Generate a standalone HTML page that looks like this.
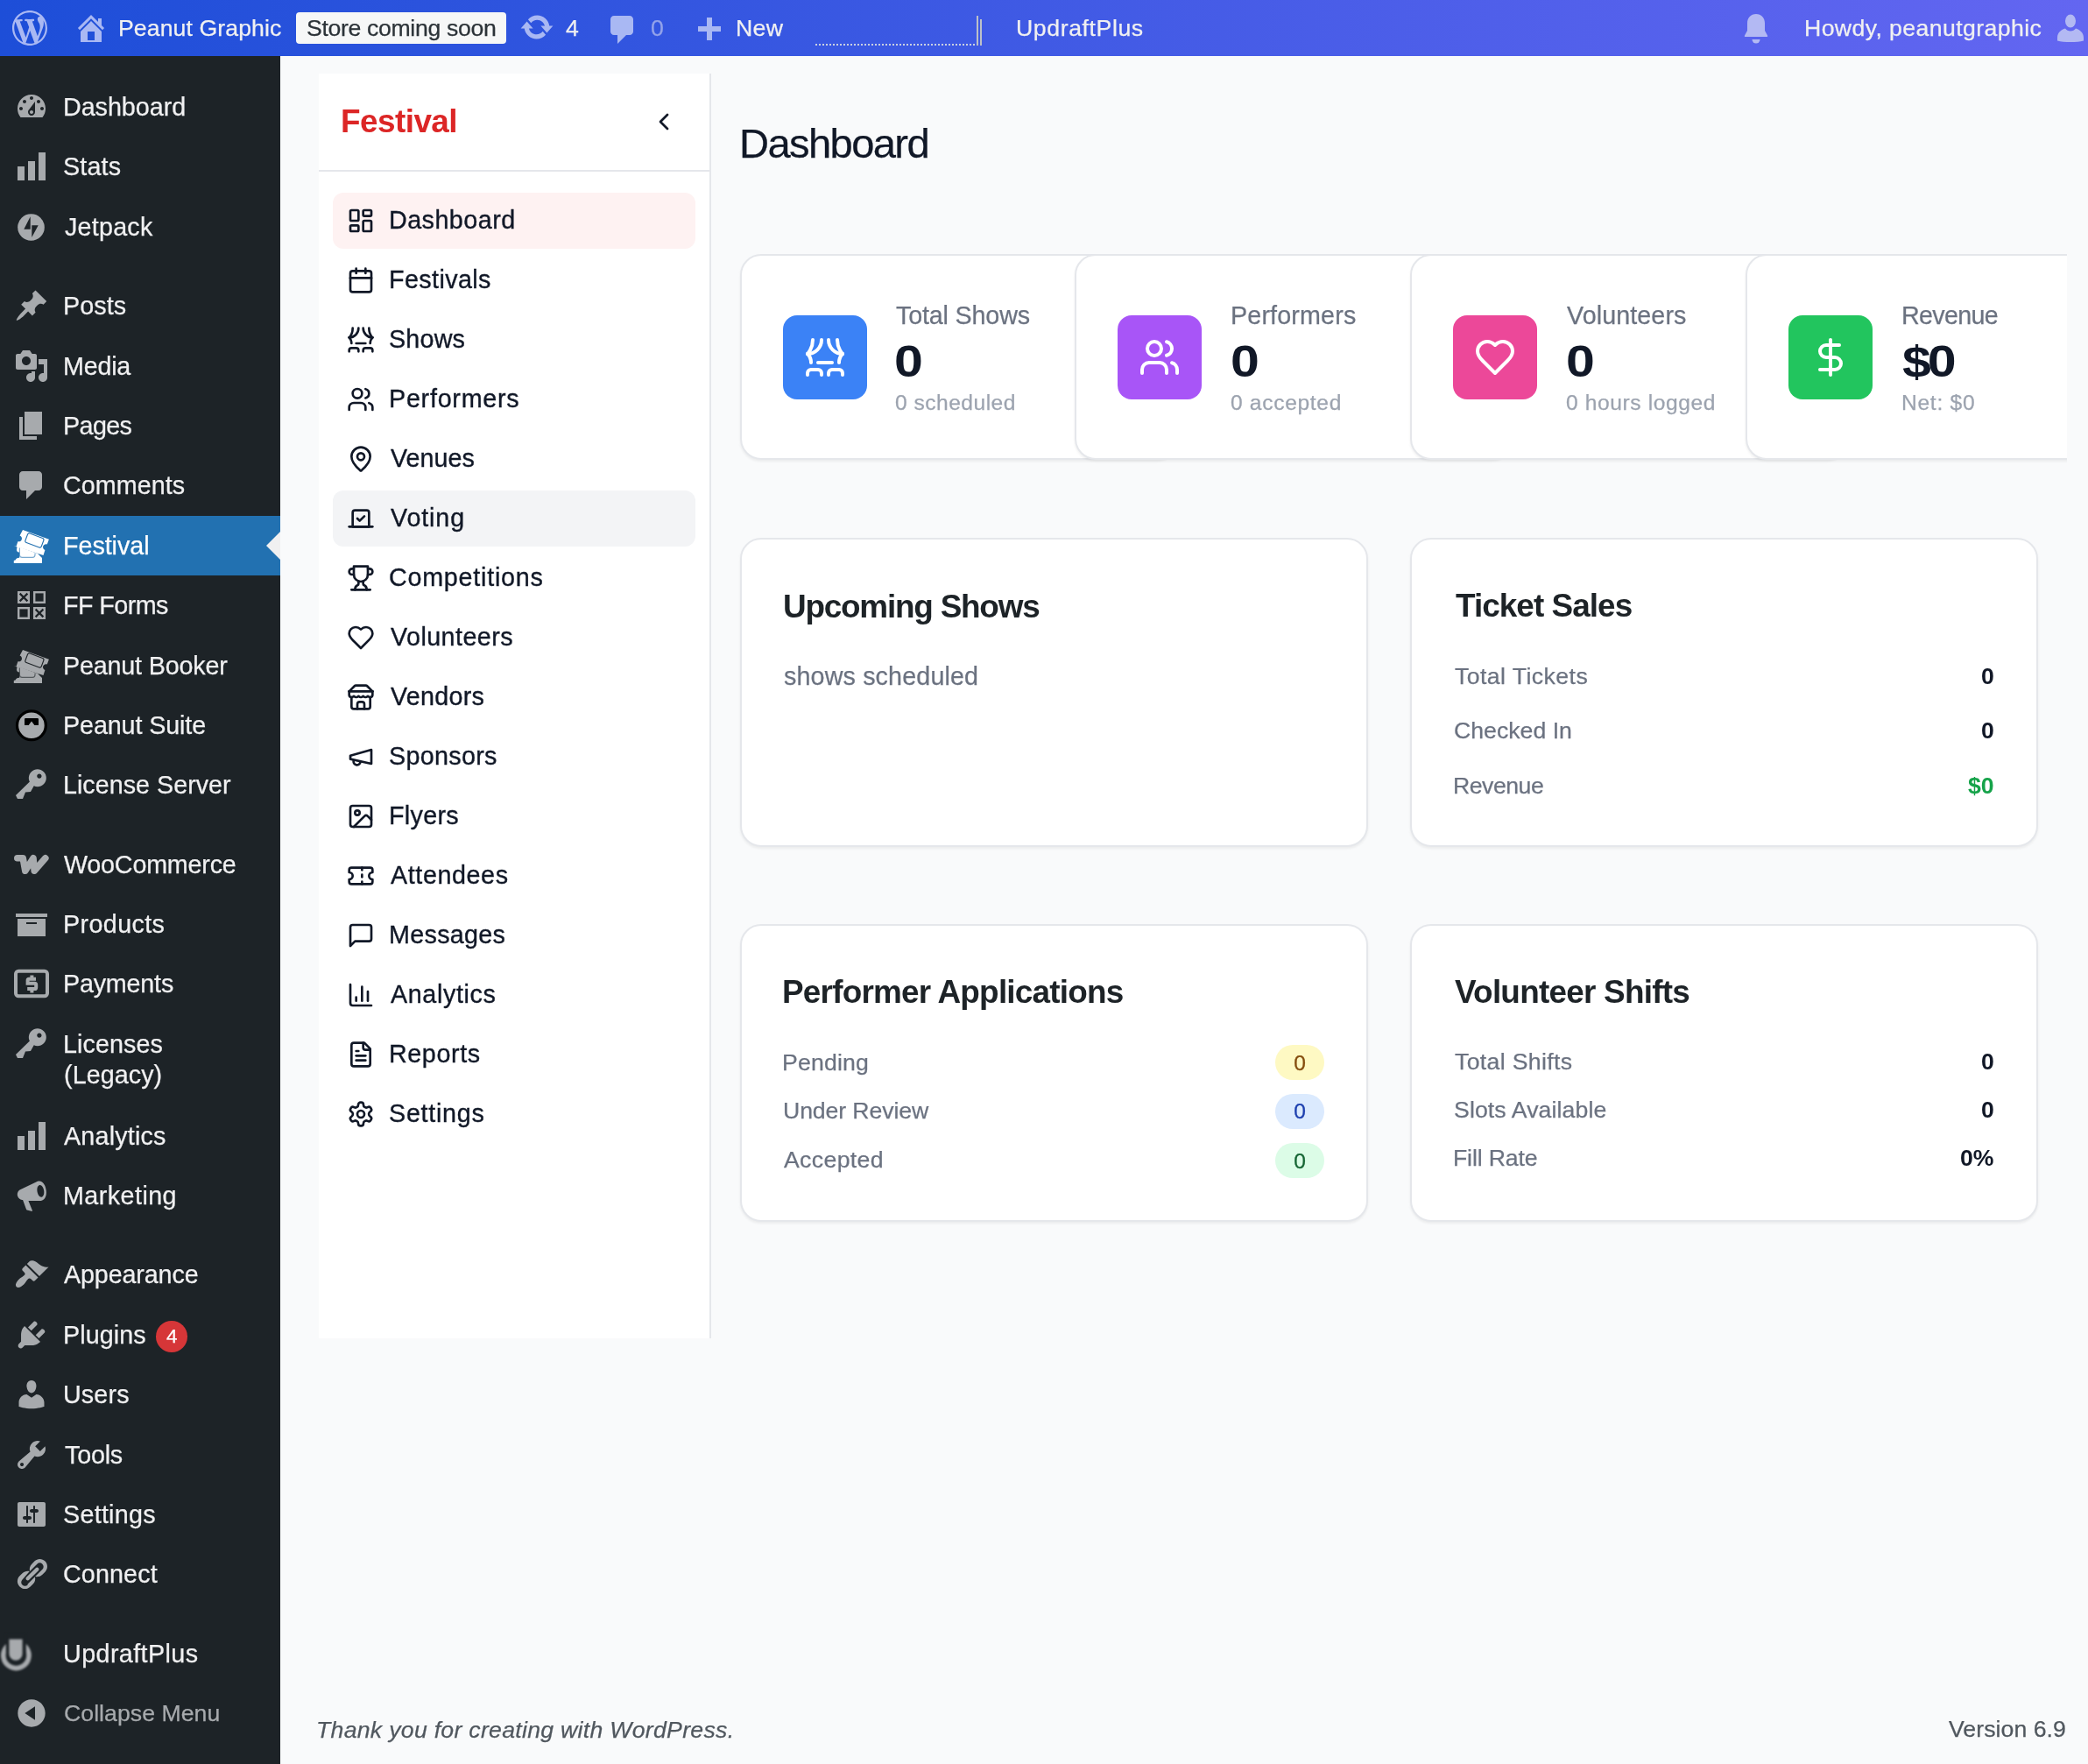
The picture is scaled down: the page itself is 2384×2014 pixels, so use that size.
<!DOCTYPE html>
<html><head><meta charset="utf-8"><title>Festival Dashboard</title>
<style>
html,body{margin:0;padding:0;}
body{width:2384px;height:2014px;position:relative;overflow:hidden;background:#f9fafb;font-family:"Liberation Sans", sans-serif;}
.t{position:absolute;white-space:nowrap;will-change:transform;}
svg{display:block;}
</style></head><body>
<div style="position:absolute;left:0px;top:0px;width:2384px;height:64px;background:linear-gradient(90deg,#1d4ed8 0%,#6366f1 100%);"></div>
<svg style="position:absolute;left:14px;top:12px;" width="40" height="40" viewBox="0 0 20 20"><path fill="#a9b8f3" d="M20 10c0-5.51-4.49-10-10-10C4.48 0 0 4.49 0 10c0 5.52 4.48 10 10 10 5.51 0 10-4.48 10-10zM7.78 15.37L4.37 6.22c.55-.02 1.17-.08 1.17-.08.5-.06.44-1.13-.06-1.11 0 0-1.45.11-2.37.11-.18 0-.37 0-.58-.01C4.12 2.69 6.87 1.11 10 1.11c2.33 0 4.45.87 6.05 2.34-.68-.11-1.65.39-1.65 1.58 0 .74.45 1.36.9 2.1.35.61.55 1.36.55 2.46 0 1.49-1.4 5-1.4 5l-3.03-8.37c.54-.02.82-.17.82-.17.5-.05.44-1.25-.06-1.22 0 0-1.44.12-2.38.12-.87 0-2.33-.12-2.33-.12-.5-.03-.56 1.2-.06 1.22l.92.08 1.26 3.41zM17.41 10c.24-.64.74-1.87.43-4.25.7 1.29 1.05 2.71 1.05 4.25 0 3.29-1.73 6.24-4.4 7.78.97-2.59 1.94-5.2 2.92-7.78zM6.1 18.09C3.12 16.65 1.11 13.53 1.11 10c0-1.3.23-2.48.72-3.59C3.25 10.3 4.67 14.2 6.1 18.09zm4.03-6.63l2.58 6.98c-.86.29-1.76.45-2.71.45-.79 0-1.57-.11-2.29-.33.81-2.38 1.62-4.74 2.42-7.1z"/></svg>
<svg style="position:absolute;left:84px;top:12px;" width="40" height="40" viewBox="0 0 20 20"><path fill="#a9b8f3" d="M16 8.5l1.53 1.53-1.06 1.06L10 4.62l-6.47 6.47-1.06-1.06L10 2.5l4 4v-2h2v4zm-6-2.46l6 5.99V18H4v-5.97zM12 17v-5H8v5h4z"/></svg>
<div class="t" style="left:135.00px;top:15.26px;font-size:26.65px;line-height:35px;color:#f0f0f1;font-weight:400;letter-spacing:0.096px;font-style:normal;-webkit-text-stroke:0.25px #f0f0f1;">Peanut Graphic</div>
<div style="position:absolute;left:338px;top:14px;width:240px;height:36px;background:#f6f7f7;border-radius:4px;"></div>
<div class="t" style="left:350.00px;top:15.26px;font-size:26.65px;line-height:35px;color:#2c3338;font-weight:400;letter-spacing:-0.338px;font-style:normal;-webkit-text-stroke:0.25px #2c3338;">Store coming soon</div>
<svg style="position:absolute;left:592.7px;top:11.4px;" width="40" height="40" viewBox="0 0 20 20"><path fill="#a9b8f3" d="M10.2 3.28c3.53 0 6.43 2.61 6.92 6h2.08l-3.5 4-3.5-4h2.32c-.45-1.97-2.21-3.44-4.32-3.44-1.45 0-2.73.71-3.54 1.78L4.95 5.66C6.23 4.2 8.11 3.28 10.2 3.28zm-.4 13.44c-3.52 0-6.43-2.61-6.92-6H.8l3.5-4c1.17 1.33 2.33 2.67 3.5 4H5.48c.45 1.97 2.21 3.44 4.32 3.44 1.45 0 2.73-.71 3.54-1.78l1.71 1.95c-1.28 1.46-3.15 2.39-5.25 2.39z"/></svg>
<div class="t" style="left:646.00px;top:15.26px;font-size:26.65px;line-height:35px;color:#f0f0f1;font-weight:400;letter-spacing:0px;font-style:normal;-webkit-text-stroke:0.25px #f0f0f1;">4</div>
<svg style="position:absolute;left:691px;top:14px;" width="40" height="40" viewBox="0 0 20 20"><path fill="#a9b8f3" d="M5 2h9c1.1 0 2 .9 2 2v7c0 1.1-.9 2-2 2h-2l-5 5v-5H5c-1.1 0-2-.9-2-2V4c0-1.1.9-2 2-2z"/></svg>
<div class="t" style="left:743.00px;top:15.26px;font-size:26.65px;line-height:35px;color:#93a3ea;font-weight:400;letter-spacing:0px;font-style:normal;-webkit-text-stroke:0.25px #93a3ea;">0</div>
<svg style="position:absolute;left:797px;top:20px;" width="26" height="26" viewBox="0 0 26 26"><path fill="#a9b8f3" d="M10 0h6v10h10v6H16v10h-6V16H0v-6h10z"/></svg>
<div class="t" style="left:840.00px;top:15.26px;font-size:26.65px;line-height:35px;color:#f0f0f1;font-weight:400;letter-spacing:0.3px;font-style:normal;-webkit-text-stroke:0.25px #f0f0f1;">New</div>
<div style="position:absolute;left:931px;top:50px;width:184px;height:2px;background-image:linear-gradient(90deg,#c9cfe0 50%,transparent 50%);background-size:4px 2px;"></div>
<div style="position:absolute;left:1115px;top:18px;width:2px;height:34px;background:#bcc0c8;"></div>
<div style="position:absolute;left:1119px;top:22px;width:2px;height:30px;background:#bcc0c8;"></div>
<div class="t" style="left:1160.00px;top:15.26px;font-size:26.65px;line-height:35px;color:#f0f0f1;font-weight:400;letter-spacing:0.6px;font-style:normal;-webkit-text-stroke:0.25px #f0f0f1;">UpdraftPlus</div>
<svg style="position:absolute;left:1989px;top:15px;" width="32" height="37" viewBox="0 0 32 37"><path fill="#b3b9f3" d="M16 1c6 0 10 4.5 10 10.5V20l3 5.5c.5 1 0 1.5-1 1.5H4c-1 0-1.5-.5-1-1.5L6 20v-8.5C6 5.5 10 1 16 1z"/><path fill="#b3b9f3" d="M11.5 30h9a4.5 4.5 0 0 1-9 0z"/></svg>
<div class="t" style="left:2060.00px;top:15.26px;font-size:26.65px;line-height:35px;color:#f0f0f1;font-weight:400;letter-spacing:0.406px;font-style:normal;-webkit-text-stroke:0.25px #f0f0f1;">Howdy, peanutgraphic</div>
<svg style="position:absolute;left:2349px;top:16px;" width="30" height="32" viewBox="0 0 30 32"><ellipse fill="#b3b9f3" cx="15" cy="8" rx="6" ry="7.5"/><path fill="#b3b9f3" d="M0 27c0-6 5-9.5 9-10.5 1.5 2 3.5 3 6 3s4.5-1 6-3c4 1 9 4.5 9 10.5v3.5c-4 1-9 1.5-15 1.5s-11-.5-15-1.5z"/></svg>
<div style="position:absolute;left:0px;top:64px;width:320px;height:1950px;background:#1d2327;"></div>
<div style="position:absolute;left:0px;top:589px;width:320px;height:68px;background:#2271b1;"></div>
<div style="position:absolute;left:304px;top:607px;width:0;height:0;border-top:16px solid transparent;border-bottom:16px solid transparent;border-right:16px solid #f0f0f1;"></div>
<div class="t" style="left:72.00px;top:104.45px;font-size:28.7px;line-height:37px;color:#f0f0f1;font-weight:400;letter-spacing:-0.026px;font-style:normal;-webkit-text-stroke:0.25px #f0f0f1;">Dashboard</div>
<svg style="position:absolute;left:16px;top:102px;overflow:visible;" width="40" height="40" viewBox="0 0 20 20"><path fill="#a7aaad" d="M3.76 16h12.48c1.1-1.37 1.76-3.11 1.76-5 0-4.42-3.58-8-8-8s-8 3.58-8 8c0 1.89.66 3.63 1.76 5zM10 4c.55 0 1 .45 1 1s-.45 1-1 1-1-.45-1-1 .45-1 1-1zM6 6c.55 0 1 .45 1 1s-.45 1-1 1-1-.45-1-1 .45-1 1-1zm8 0c.55 0 1 .45 1 1s-.45 1-1 1-1-.45-1-1 .45-1 1-1zm-5.37 5.55L12 7v6c0 1.1-.9 2-2 2s-2-.9-2-2c0-.57.24-1.08.63-1.45zM4 10c.55 0 1 .45 1 1s-.45 1-1 1-1-.45-1-1 .45-1 1-1zm12 0c.55 0 1 .45 1 1s-.45 1-1 1-1-.45-1-1 .45-1 1-1zm-5 3c0-.55-.45-1-1-1s-1 .45-1 1 .45 1 1 1 1-.45 1-1z"/></svg>
<div class="t" style="left:72.25px;top:172.45px;font-size:28.7px;line-height:37px;color:#f0f0f1;font-weight:400;letter-spacing:0.152px;font-style:normal;-webkit-text-stroke:0.25px #f0f0f1;">Stats</div>
<svg style="position:absolute;left:16px;top:170px;overflow:visible;" width="40" height="40" viewBox="0 0 20 20"><path fill="#a7aaad" d="M18 18V2h-4v16h4zm-6 0V7H8v11h4zm-6 0v-8H2v8h4z"/></svg>
<div class="t" style="left:73.75px;top:241.45px;font-size:28.7px;line-height:37px;color:#f0f0f1;font-weight:400;letter-spacing:0.234px;font-style:normal;-webkit-text-stroke:0.25px #f0f0f1;">Jetpack</div>
<svg style="position:absolute;left:16px;top:239px;overflow:visible;" width="40" height="40" viewBox="0 0 20 20"><circle cx="9.75" cy="10.25" r="7.65" fill="#a7aaad"/><path fill="#1d2327" d="M9.35 4.1V11.35H5.65zM10.15 9.15H13.85L10.15 16z"/></svg>
<div class="t" style="left:72.00px;top:331.45px;font-size:28.7px;line-height:37px;color:#f0f0f1;font-weight:400;letter-spacing:0.098px;font-style:normal;-webkit-text-stroke:0.25px #f0f0f1;">Posts</div>
<svg style="position:absolute;left:16px;top:329px;overflow:visible;" width="40" height="40" viewBox="0 0 20 20"><path fill="#a7aaad" d="M10.44 3.02l1.82-1.82 6.36 6.35-1.83 1.82c-1.05-.68-2.48-.57-3.41.36l-.75.75c-.92.93-1.04 2.35-.35 3.41l-1.83 1.82-2.41-2.41-2.8 2.79c-.42.42-3.38 2.71-3.8 2.29s1.86-3.39 2.28-3.81l2.79-2.79L4.1 9.36l1.83-1.82c1.05.69 2.48.57 3.4-.36l.75-.75c.93-.92 1.05-2.35.36-3.41z"/></svg>
<div class="t" style="left:72.00px;top:400.45px;font-size:28.7px;line-height:37px;color:#f0f0f1;font-weight:400;letter-spacing:-0.202px;font-style:normal;-webkit-text-stroke:0.25px #f0f0f1;">Media</div>
<svg style="position:absolute;left:16px;top:398px;overflow:visible;" width="40" height="40" viewBox="0 0 20 20"><path fill="#a7aaad" d="M13 11V4c0-.55-.45-1-1-1h-1.67L9 1H5L3.67 3H2c-.55 0-1 .45-1 1v7c0 .55.45 1 1 1h10c.55 0 1-.45 1-1zM7 4.5c1.38 0 2.5 1.12 2.5 2.5S8.38 9.5 7 9.5 4.5 8.38 4.5 7 5.62 4.5 7 4.5zM14 6h5v10.5c0 1.38-1.12 2.5-2.5 2.5S14 17.88 14 16.5s1.12-2.5 2.5-2.5c.17 0 .34.02.5.05V9h-3V6zm-4 8.05V13h2v3.5c0 1.38-1.12 2.5-2.5 2.5S7 17.88 7 16.5 8.12 14 9.5 14c.17 0 .34.02.5.05z"/></svg>
<div class="t" style="left:72.00px;top:468.45px;font-size:28.7px;line-height:37px;color:#f0f0f1;font-weight:400;letter-spacing:-0.598px;font-style:normal;-webkit-text-stroke:0.25px #f0f0f1;">Pages</div>
<svg style="position:absolute;left:16px;top:466px;overflow:visible;" width="40" height="40" viewBox="0 0 20 20"><path fill="#a7aaad" d="M6 15V2h10v13H6zm-1 1h8v2H3V5h2v11z"/></svg>
<div class="t" style="left:72.25px;top:536.45px;font-size:28.7px;line-height:37px;color:#f0f0f1;font-weight:400;letter-spacing:0.043px;font-style:normal;-webkit-text-stroke:0.25px #f0f0f1;">Comments</div>
<svg style="position:absolute;left:16px;top:534px;overflow:visible;" width="40" height="40" viewBox="0 0 20 20"><path fill="#a7aaad" d="M5 2h9c1.1 0 2 .9 2 2v7c0 1.1-.9 2-2 2h-2l-5 5v-5H5c-1.1 0-2-.9-2-2V4c0-1.1.9-2 2-2z"/></svg>
<div class="t" style="left:72.00px;top:605.45px;font-size:28.7px;line-height:37px;color:#ffffff;font-weight:400;letter-spacing:-0.042px;font-style:normal;-webkit-text-stroke:0.25px #ffffff;">Festival</div>
<svg style="position:absolute;left:16px;top:603px;overflow:visible;" width="40" height="40" viewBox="0 0 20 20"><g fill="#ffffff"><path d="M5 1 19.95 6.35 18.9 9.2c-1-.35-2 .2-2.3 1.1s.2 1.9 1.1 2.2L16.75 15.5 1.25 10.5 2.2 7.6c1 .3 1.9-.2 2.2-1.1s-.2-1.9-1.1-2.2z"/><path d="M-.1 10.1 1.4 10.6c.3 0 .5.3.3.6-.3 1-.4 2.5 1.4 2.6V16.9c-1.3 0-2.1.6-2.3 1.4L-.1 18.5V20H16V17L13.5 14.5 2.6 10.6z"/></g><g fill="none" stroke="#2271b1" stroke-width="0.55"><rect x="6.8" y="4.2" width="9.8" height="5.6" rx="1" transform="rotate(20.5 11.7 7)"/><path d="M3.2 11.2V15.3a1.4 1.4 0 0 0 1.4 1.4H10.6a1.4 1.4 0 0 0 1.4-1.4V14.2" stroke-opacity="0.6"/></g></svg>
<div class="t" style="left:72.00px;top:673.45px;font-size:28.7px;line-height:37px;color:#f0f0f1;font-weight:400;letter-spacing:-0.557px;font-style:normal;-webkit-text-stroke:0.25px #f0f0f1;">FF Forms</div>
<svg style="position:absolute;left:16px;top:671px;overflow:visible;" width="40" height="40" viewBox="0 0 20 20"><g fill="none" stroke="#a7aaad" stroke-width="1.2"><rect x="2.6" y="2.6" width="5.8" height="5.8"/><rect x="11.6" y="2.6" width="5.8" height="5.8"/><rect x="2.6" y="11.6" width="5.8" height="5.8"/><rect x="11.6" y="11.6" width="5.8" height="5.8"/></g><g fill="#a7aaad"><rect x="2" y="2" width="7" height="7"/><rect x="11" y="11" width="7" height="7"/></g><g stroke="#1d2327" stroke-width="1.1"><path d="M3.3 3.3 7.7 7.7M7.7 3.3 3.3 7.7M12.3 12.3 16.7 16.7M16.7 12.3 12.3 16.7"/></g></svg>
<div class="t" style="left:72.00px;top:742.45px;font-size:28.7px;line-height:37px;color:#f0f0f1;font-weight:400;letter-spacing:-0.167px;font-style:normal;-webkit-text-stroke:0.25px #f0f0f1;">Peanut Booker</div>
<svg style="position:absolute;left:16px;top:740px;overflow:visible;" width="40" height="40" viewBox="0 0 20 20"><g fill="#a7aaad"><path d="M5 1 19.95 6.35 18.9 9.2c-1-.35-2 .2-2.3 1.1s.2 1.9 1.1 2.2L16.75 15.5 1.25 10.5 2.2 7.6c1 .3 1.9-.2 2.2-1.1s-.2-1.9-1.1-2.2z"/><path d="M-.1 10.1 1.4 10.6c.3 0 .5.3.3.6-.3 1-.4 2.5 1.4 2.6V16.9c-1.3 0-2.1.6-2.3 1.4L-.1 18.5V20H16V17L13.5 14.5 2.6 10.6z"/></g><g fill="none" stroke="#1d2327" stroke-width="0.55"><rect x="6.8" y="4.2" width="9.8" height="5.6" rx="1" transform="rotate(20.5 11.7 7)"/><path d="M3.2 11.2V15.3a1.4 1.4 0 0 0 1.4 1.4H10.6a1.4 1.4 0 0 0 1.4-1.4V14.2" stroke-opacity="0.6"/></g></svg>
<div class="t" style="left:72.00px;top:810.45px;font-size:28.7px;line-height:37px;color:#f0f0f1;font-weight:400;letter-spacing:-0.1px;font-style:normal;-webkit-text-stroke:0.25px #f0f0f1;">Peanut Suite</div>
<svg style="position:absolute;left:16px;top:808px;overflow:visible;" width="40" height="40" viewBox="0 0 20 20"><circle cx="9.95" cy="10.1" r="8.2" fill="#a7aaad" stroke="#000" stroke-width="1.6"/><path fill="#000" d="M6 6.6c0-.4.3-.6.7-.6h6.6c.4 0 .7.2.7.6V10h-2.3L10 7.8 8.3 10H6z"/></svg>
<div class="t" style="left:72.00px;top:878.45px;font-size:28.7px;line-height:37px;color:#f0f0f1;font-weight:400;letter-spacing:0.023px;font-style:normal;-webkit-text-stroke:0.25px #f0f0f1;">License Server</div>
<svg style="position:absolute;left:16px;top:876px;overflow:visible;" width="40" height="40" viewBox="0 0 20 20"><path fill="#a7aaad" d="M16.95 2.58c1.96 1.95 1.96 5.12 0 7.07-1.51 1.51-3.75 1.84-5.59 1.01l-1.87 3.31-2.99.31L5 18H2l-1-2 7.95-7.69c-.92-1.87-.62-4.18.93-5.73 1.95-1.96 5.12-1.96 7.07 0zm-2.51 3.79c.74 0 1.33-.6 1.33-1.34 0-.73-.59-1.33-1.33-1.33-.73 0-1.33.6-1.33 1.33 0 .74.6 1.34 1.33 1.34z"/></svg>
<div class="t" style="left:73.25px;top:969.45px;font-size:28.7px;line-height:37px;color:#f0f0f1;font-weight:400;letter-spacing:-0.2px;font-style:normal;-webkit-text-stroke:0.25px #f0f0f1;">WooCommerce</div>
<svg style="position:absolute;left:16px;top:967px;overflow:visible;" width="40" height="40" viewBox="0 0 20 20"><path fill="none" stroke="#a7aaad" stroke-width="3.8" stroke-linecap="round" stroke-linejoin="round" d="M1.9 6.4H5.1L6.4 13.6 11 6.4 11.6 13.6 17.9 6.4"/></svg>
<div class="t" style="left:72.00px;top:1037.45px;font-size:28.7px;line-height:37px;color:#f0f0f1;font-weight:400;letter-spacing:0.386px;font-style:normal;-webkit-text-stroke:0.25px #f0f0f1;">Products</div>
<svg style="position:absolute;left:16px;top:1035px;overflow:visible;" width="40" height="40" viewBox="0 0 20 20"><path fill="#a7aaad" d="M19 4v2H1V4h18zM2 7h16v10H2V7zm11 3V9H7v1h6z"/></svg>
<div class="t" style="left:72.00px;top:1105.45px;font-size:28.7px;line-height:37px;color:#f0f0f1;font-weight:400;letter-spacing:-0.186px;font-style:normal;-webkit-text-stroke:0.25px #f0f0f1;">Payments</div>
<svg style="position:absolute;left:16px;top:1103px;overflow:visible;" width="40" height="40" viewBox="0 0 20 20"><rect x="1" y="2.9" width="18" height="14.2" rx="1.6" fill="none" stroke="#a7aaad" stroke-width="2"/><path fill="none" stroke="#a7aaad" stroke-width="2" d="M12.5 7.4H8.6a.8.8 0 0 0-.8.8V9.9H11.8a.8.8 0 0 1 .8.8V12.2a.8.8 0 0 1-.8.8H7.6M10.2 5.2V7.4M10.2 13V15.2"/></svg>
<div class="t" style="left:72.00px;top:1174.45px;font-size:28.7px;line-height:37px;color:#f0f0f1;font-weight:400;letter-spacing:0.1px;font-style:normal;-webkit-text-stroke:0.25px #f0f0f1;">Licenses</div>
<svg style="position:absolute;left:16px;top:1172px;overflow:visible;" width="40" height="40" viewBox="0 0 20 20"><path fill="#a7aaad" d="M16.95 2.58c1.96 1.95 1.96 5.12 0 7.07-1.51 1.51-3.75 1.84-5.59 1.01l-1.87 3.31-2.99.31L5 18H2l-1-2 7.95-7.69c-.92-1.87-.62-4.18.93-5.73 1.95-1.96 5.12-1.96 7.07 0zm-2.51 3.79c.74 0 1.33-.6 1.33-1.34 0-.73-.59-1.33-1.33-1.33-.73 0-1.33.6-1.33 1.33 0 .74.6 1.34 1.33 1.34z"/></svg>
<div class="t" style="left:73.25px;top:1279.45px;font-size:28.7px;line-height:37px;color:#f0f0f1;font-weight:400;letter-spacing:0.199px;font-style:normal;-webkit-text-stroke:0.25px #f0f0f1;">Analytics</div>
<svg style="position:absolute;left:16px;top:1277px;overflow:visible;" width="40" height="40" viewBox="0 0 20 20"><path fill="#a7aaad" d="M18 18V2h-4v16h4zm-6 0V7H8v11h4zm-6 0v-8H2v8h4z"/></svg>
<div class="t" style="left:72.00px;top:1347.45px;font-size:28.7px;line-height:37px;color:#f0f0f1;font-weight:400;letter-spacing:0.451px;font-style:normal;-webkit-text-stroke:0.25px #f0f0f1;">Marketing</div>
<svg style="position:absolute;left:16px;top:1345px;overflow:visible;" width="40" height="40" viewBox="0 0 20 20"><path fill="#a7aaad" d="M18.15 5.94c.46 1.62.38 3.22-.02 4.48-.42 1.28-1.26 2.18-2.3 2.48-.16.06-.26.06-.4.06-.06.02-.12.02-.18.02-.06.02-.14.02-.22.02h-6.8l2.22 5.5c.02.14-.06.26-.14.34-.08.06-.19.1-.32.1-.05 0-.08 0-.12-.02l-2.5-.64c-.14-.04-.26-.14-.32-.26L5.03 12.5c-.14-.02-.27-.04-.4-.04-1.21-.14-2.22-1.02-2.58-2.26-.42-1.41.23-2.95 1.49-3.6l10.17-4.84h.22c.28-.04.5-.04.74 0 1.54.14 2.94 1.74 3.48 4.18zm-2.37 4.92c.68-.2 1.06-.86 1.24-1.58.2-.82.2-1.74-.08-2.84-.28-1.04-.78-1.86-1.38-2.24-.34-.22-.66-.3-.98-.22-.68.2-1.08.86-1.26 1.58-.2.84-.16 1.76.1 2.86.28 1.06.78 1.84 1.38 2.22.32.22.66.3.98.22z"/></svg>
<div class="t" style="left:73.25px;top:1437.45px;font-size:28.7px;line-height:37px;color:#f0f0f1;font-weight:400;letter-spacing:-0.122px;font-style:normal;-webkit-text-stroke:0.25px #f0f0f1;">Appearance</div>
<svg style="position:absolute;left:16px;top:1435px;overflow:visible;" width="40" height="40" viewBox="0 0 20 20"><path fill="#a7aaad" d="M14.48 11.06L7.41 3.99l1.5-1.5c.5-.56 2.3-.47 3.51.32 1.21.8 1.43 1.28 2.91 2.1 1.18.64 2.45 1.26 4.45.85zm-.71.71L6.7 4.7 4.93 6.47c-.39.39-.39 1.02 0 1.41l1.06 1.06c.39.39.39 1.03 0 1.42-.6.6-1.43 1.11-2.21 1.69-.35.26-.7.53-1.01.84C1.43 14.23.4 16.08 1.4 17.07c.99 1 2.84-.03 4.18-1.36.31-.31.58-.66.85-1.02.57-.78 1.08-1.61 1.69-2.21.39-.39 1.02-.39 1.41 0l1.06 1.06c.39.39 1.02.39 1.41 0z"/></svg>
<div class="t" style="left:72.00px;top:1506.45px;font-size:28.7px;line-height:37px;color:#f0f0f1;font-weight:400;letter-spacing:0.1px;font-style:normal;-webkit-text-stroke:0.25px #f0f0f1;">Plugins</div>
<svg style="position:absolute;left:16px;top:1504px;overflow:visible;" width="40" height="40" viewBox="0 0 20 20"><path fill="#a7aaad" d="M13.11 4.36L9.87 7.6 8 5.73l3.24-3.24c.35-.34 1.05-.2 1.56.32.52.51.66 1.21.31 1.55zm-8 1.77l.91-1.12 9.01 9.01-1.19.84c-.71.71-2.63 1.16-3.82 1.16H6.14L4.9 17.26c-.59.59-1.54.59-2.12 0-.59-.58-.59-1.53 0-2.12l1.24-1.24v-3.88c0-1.13.4-3.19 1.09-3.89zm7.26 3.97l3.24-3.24c.34-.35 1.04-.21 1.55.31.52.51.66 1.21.31 1.55l-3.24 3.25z"/></svg>
<div class="t" style="left:71.50px;top:1574.45px;font-size:28.7px;line-height:37px;color:#f0f0f1;font-weight:400;letter-spacing:0.152px;font-style:normal;-webkit-text-stroke:0.25px #f0f0f1;">Users</div>
<svg style="position:absolute;left:16px;top:1572px;overflow:visible;" width="40" height="40" viewBox="0 0 20 20"><path fill="#a7aaad" d="M10 9.25c-2.27 0-2.73-3.44-2.73-3.44C7 4.02 7.82 2 9.97 2c2.16 0 2.98 2.02 2.71 3.81 0 0-.41 3.44-2.68 3.44zm0 2.57L12.72 10c2.39 0 4.52 2.33 4.52 4.53v2.49s-3.65 1.13-7.24 1.13c-3.65 0-7.24-1.13-7.24-1.13v-2.49c0-2.25 1.94-4.48 4.47-4.48z"/></svg>
<div class="t" style="left:73.75px;top:1643.45px;font-size:28.7px;line-height:37px;color:#f0f0f1;font-weight:400;letter-spacing:-0.202px;font-style:normal;-webkit-text-stroke:0.25px #f0f0f1;">Tools</div>
<svg style="position:absolute;left:16px;top:1641px;overflow:visible;" width="40" height="40" viewBox="0 0 20 20"><path fill="#a7aaad" d="M16.68 9.77c-1.34 1.34-3.3 1.67-4.95.99l-5.41 6.52c-.99.99-2.59.99-3.58 0s-.99-2.59 0-3.57l6.52-5.42c-.68-1.65-.35-3.61.99-4.95 1.28-1.28 3.12-1.62 4.72-1.06l-2.89 2.89 2.82 2.82 2.86-2.87c.53 1.58.18 3.39-1.08 4.65zM3.81 16.21c.4.39 1.04.39 1.43 0 .4-.4.4-1.04 0-1.43-.39-.4-1.03-.4-1.43 0-.39.39-.39 1.03 0 1.43z"/></svg>
<div class="t" style="left:72.25px;top:1711.45px;font-size:28.7px;line-height:37px;color:#f0f0f1;font-weight:400;letter-spacing:0.272px;font-style:normal;-webkit-text-stroke:0.25px #f0f0f1;">Settings</div>
<svg style="position:absolute;left:16px;top:1709px;overflow:visible;" width="40" height="40" viewBox="0 0 20 20"><path fill="#a7aaad" d="M18 16V4c0-.55-.45-1-1-1H3c-.55 0-1 .45-1 1v12c0 .55.45 1 1 1h14c.55 0 1-.45 1-1zM8 11h1c.55 0 1 .45 1 1s-.45 1-1 1H8v1.5c0 .28-.22.5-.5.5s-.5-.22-.5-.5V13H6c-.55 0-1-.45-1-1s.45-1 1-1h1V5.5c0-.28.22-.5.5-.5s.5.22.5.5V11zm5-2h-1v5.5c0 .28-.22.5-.5.5s-.5-.22-.5-.5V9h-1c-.55 0-1-.45-1-1s.45-1 1-1h1V5.5c0-.28.22-.5.5-.5s.5.22.5.5V7h1c.55 0 1 .45 1 1s-.45 1-1 1z"/></svg>
<div class="t" style="left:72.25px;top:1779.45px;font-size:28.7px;line-height:37px;color:#f0f0f1;font-weight:400;letter-spacing:0.133px;font-style:normal;-webkit-text-stroke:0.25px #f0f0f1;">Connect</div>
<svg style="position:absolute;left:16px;top:1777px;overflow:visible;" width="40" height="40" viewBox="0 0 20 20"><path fill="#a7aaad" d="M17.74 2.76c1.68 1.69 1.68 4.41 0 6.1l-1.53 1.52c-1.12 1.12-2.7 1.49-4.14 1.12l2.62-2.61.76-.77.76-.76c.84-.84.84-2.2 0-3.04-.84-.85-2.2-.85-3.04 0l-.77.76-3.38 3.38c-.37-1.44 0-3.02 1.12-4.14l1.52-1.52c1.69-1.69 4.42-1.69 6.1 0zM8.59 13.43l5.34-5.34c.42-.42.42-1.1 0-1.52-.44-.43-1.13-.39-1.53 0l-5.33 5.34c-.42.42-.42 1.1 0 1.52.4.4 1.1.44 1.52 0zm-.76 2.29l4.14-4.15c.38 1.44 0 3.02-1.12 4.14l-1.52 1.52c-1.69 1.69-4.41 1.69-6.1 0-1.68-1.68-1.68-4.42 0-6.1l1.53-1.52c1.12-1.12 2.7-1.5 4.14-1.12L4.76 13.2c-.84.84-.84 2.2 0 3.04.84.85 2.2.85 3.04 0z"/></svg>
<div class="t" style="left:71.50px;top:1870.45px;font-size:28.7px;line-height:37px;color:#f0f0f1;font-weight:400;letter-spacing:0.42px;font-style:normal;-webkit-text-stroke:0.25px #f0f0f1;">UpdraftPlus</div>
<svg style="position:absolute;left:0px;top:1860px;overflow:visible;" width="60" height="60" viewBox="0 0 60 60"><g style="filter:blur(1.3px)"><circle cx="18.4" cy="30" r="14.6" fill="none" stroke="#a7aaad" stroke-width="5.6"/><path fill="#1d2327" d="M6.8 5H29.8V26a11.5 11.5 0 0 1-23 0z"/><path fill="#a7aaad" d="M10.4 11.6H25.6V28.2a7.6 7.6 0 0 1-15.2 0z"/></g></svg>
<div class="t" style="left:72.75px;top:1209.45px;font-size:28.7px;line-height:37px;color:#f0f0f1;font-weight:400;letter-spacing:0.072px;font-style:normal;-webkit-text-stroke:0.25px #f0f0f1;">(Legacy)</div>
<div style="position:absolute;left:178px;top:1508px;width:36px;height:36px;background:#d63638;border-radius:50%;"></div>
<div class="t" style="left:190.00px;top:1511.18px;font-size:22.55px;line-height:29px;color:#ffffff;font-weight:400;letter-spacing:0px;font-style:normal;-webkit-text-stroke:0.25px #ffffff;">4</div>
<svg style="position:absolute;left:16px;top:1936px;" width="40" height="40" viewBox="0 0 20 20"><path fill="#a7aaad" d="M10 2.16c4.33 0 7.84 3.51 7.84 7.84s-3.51 7.84-7.84 7.84S2.16 14.33 2.16 10 5.71 2.16 10 2.16zm2 11.72V6.12L6.18 9.97z"/></svg>
<div class="t" style="left:72.75px;top:1939.26px;font-size:26.65px;line-height:35px;color:#a7aaad;font-weight:400;letter-spacing:0.05px;font-style:normal;-webkit-text-stroke:0.25px #a7aaad;">Collapse Menu</div>
<div style="position:absolute;left:364px;top:84px;width:448px;height:1444px;background:#ffffff;border-right:2px solid #e5e7eb;box-sizing:border-box;"></div>
<div style="position:absolute;left:364px;top:194px;width:446px;height:2px;background:#e5e7eb;"></div>
<div class="t" style="left:389.00px;top:115.21px;font-size:36.9px;line-height:48px;color:#dc2626;font-weight:700;letter-spacing:-0.543px;font-style:normal;">Festival</div>
<svg style="position:absolute;left:742px;top:123px;" width="32" height="32" viewBox="0 0 24 24"><g fill="none" stroke="#111827" stroke-width="2" stroke-linecap="round" stroke-linejoin="round"><path d="m15 18-6-6 6-6"/></g></svg>
<div style="position:absolute;left:380px;top:220px;width:414px;height:64px;background:#fef2f2;border-radius:12px;"></div>
<svg style="position:absolute;left:396px;top:236px;" width="32" height="32" viewBox="0 0 24 24"><g fill="none" stroke="#111827" stroke-width="2" stroke-linecap="round" stroke-linejoin="round"><rect width="7" height="9" x="3" y="3" rx="1"/><rect width="7" height="5" x="14" y="3" rx="1"/><rect width="7" height="9" x="14" y="12" rx="1"/><rect width="7" height="5" x="3" y="16" rx="1"/></g></svg>
<div class="t" style="left:444.00px;top:233.25px;font-size:28.7px;line-height:37px;color:#111827;font-weight:400;letter-spacing:0.475px;font-style:normal;-webkit-text-stroke:0.35px #111827;">Dashboard</div>
<svg style="position:absolute;left:396px;top:304px;" width="32" height="32" viewBox="0 0 24 24"><g fill="none" stroke="#111827" stroke-width="2" stroke-linecap="round" stroke-linejoin="round"><path d="M8 2v4"/><path d="M16 2v4"/><rect width="18" height="18" x="3" y="4" rx="2"/><path d="M3 10h18"/></g></svg>
<div class="t" style="left:444.00px;top:301.25px;font-size:28.7px;line-height:37px;color:#111827;font-weight:400;letter-spacing:0.398px;font-style:normal;-webkit-text-stroke:0.35px #111827;">Festivals</div>
<svg style="position:absolute;left:396px;top:372px;" width="32" height="32" viewBox="0 0 24 24"><g fill="none" stroke="#111827" stroke-width="2" stroke-linecap="round" stroke-linejoin="round"><path d="M2 10s3-3 3-8"/><path d="M22 10s-3-3-3-8"/><path d="M10 2c0 4.4-3.6 8-8 8"/><path d="M14 2c0 4.4 3.6 8 8 8"/><path d="M2 10s2 2 2 5"/><path d="M22 10s-2 2-2 5"/><path d="M8 15h8"/><path d="M2 22v-1a2 2 0 0 1 2-2h4a2 2 0 0 1 2 2v1"/><path d="M14 22v-1a2 2 0 0 1 2-2h4a2 2 0 0 1 2 2v1"/></g></svg>
<div class="t" style="left:444.00px;top:369.25px;font-size:28.7px;line-height:37px;color:#111827;font-weight:400;letter-spacing:0.2px;font-style:normal;-webkit-text-stroke:0.35px #111827;">Shows</div>
<svg style="position:absolute;left:396px;top:440px;" width="32" height="32" viewBox="0 0 24 24"><g fill="none" stroke="#111827" stroke-width="2" stroke-linecap="round" stroke-linejoin="round"><path d="M16 21v-2a4 4 0 0 0-4-4H6a4 4 0 0 0-4 4v2"/><circle cx="9" cy="7" r="4"/><path d="M22 21v-2a4 4 0 0 0-3-3.87"/><path d="M16 3.13a4 4 0 0 1 0 7.75"/></g></svg>
<div class="t" style="left:444.00px;top:437.25px;font-size:28.7px;line-height:37px;color:#111827;font-weight:400;letter-spacing:0.756px;font-style:normal;-webkit-text-stroke:0.35px #111827;">Performers</div>
<svg style="position:absolute;left:396px;top:508px;" width="32" height="32" viewBox="0 0 24 24"><g fill="none" stroke="#111827" stroke-width="2" stroke-linecap="round" stroke-linejoin="round"><path d="M20 10c0 4.993-5.539 10.193-7.399 11.799a1 1 0 0 1-1.202 0C9.539 20.193 4 14.993 4 10a8 8 0 0 1 16 0"/><circle cx="12" cy="10" r="3"/></g></svg>
<div class="t" style="left:446.40px;top:505.25px;font-size:28.7px;line-height:37px;color:#111827;font-weight:400;letter-spacing:0.04px;font-style:normal;-webkit-text-stroke:0.35px #111827;">Venues</div>
<div style="position:absolute;left:380px;top:560px;width:414px;height:64px;background:#f3f4f6;border-radius:12px;"></div>
<svg style="position:absolute;left:396px;top:576px;" width="32" height="32" viewBox="0 0 24 24"><g fill="none" stroke="#111827" stroke-width="2" stroke-linecap="round" stroke-linejoin="round"><path d="m9 12 2 2 4-4"/><path d="M5 7c0-1.1.9-2 2-2h10a2 2 0 0 1 2 2v12H5V7Z"/><path d="M22 19H2"/></g></svg>
<div class="t" style="left:446.40px;top:573.25px;font-size:28.7px;line-height:37px;color:#111827;font-weight:400;letter-spacing:0.88px;font-style:normal;-webkit-text-stroke:0.35px #111827;">Voting</div>
<svg style="position:absolute;left:396px;top:644px;" width="32" height="32" viewBox="0 0 24 24"><g fill="none" stroke="#111827" stroke-width="2" stroke-linecap="round" stroke-linejoin="round"><path d="M6 9H4.5a2.5 2.5 0 0 1 0-5H6"/><path d="M18 9h1.5a2.5 2.5 0 0 0 0-5H18"/><path d="M4 22h16"/><path d="M10 14.66V17c0 .55-.47.98-.97 1.21C7.85 18.75 7 20.24 7 22"/><path d="M14 14.66V17c0 .55.47.98.97 1.21C16.15 18.75 17 20.24 17 22"/><path d="M18 2H6v7a6 6 0 0 0 12 0V2Z"/></g></svg>
<div class="t" style="left:444.00px;top:641.25px;font-size:28.7px;line-height:37px;color:#111827;font-weight:400;letter-spacing:0.763px;font-style:normal;-webkit-text-stroke:0.35px #111827;">Competitions</div>
<svg style="position:absolute;left:396px;top:712px;" width="32" height="32" viewBox="0 0 24 24"><g fill="none" stroke="#111827" stroke-width="2" stroke-linecap="round" stroke-linejoin="round"><path d="M19 14c1.49-1.46 3-3.21 3-5.5A5.5 5.5 0 0 0 16.5 3c-1.76 0-3 .5-4.5 2-1.5-1.5-2.74-2-4.5-2A5.5 5.5 0 0 0 2 8.5c0 2.3 1.5 4.05 3 5.5l7 7Z"/></g></svg>
<div class="t" style="left:446.40px;top:709.25px;font-size:28.7px;line-height:37px;color:#111827;font-weight:400;letter-spacing:0.444px;font-style:normal;-webkit-text-stroke:0.35px #111827;">Volunteers</div>
<svg style="position:absolute;left:396px;top:780px;" width="32" height="32" viewBox="0 0 24 24"><g fill="none" stroke="#111827" stroke-width="2" stroke-linecap="round" stroke-linejoin="round"><path d="m2 7 4.41-4.41A2 2 0 0 1 7.83 2h8.34a2 2 0 0 1 1.42.59L22 7"/><path d="M4 12v8a2 2 0 0 0 2 2h12a2 2 0 0 0 2-2v-8"/><path d="M15 22v-4a2 2 0 0 0-2-2h-2a2 2 0 0 0-2 2v4"/><path d="M2 7h20"/><path d="M22 7v3a2 2 0 0 1-2 2a2.7 2.7 0 0 1-1.59-.63.7.7 0 0 0-.82 0A2.7 2.7 0 0 1 16 12a2.7 2.7 0 0 1-1.59-.63.7.7 0 0 0-.82 0A2.7 2.7 0 0 1 12 12a2.7 2.7 0 0 1-1.59-.63.7.7 0 0 0-.82 0A2.7 2.7 0 0 1 8 12a2.7 2.7 0 0 1-1.59-.63.7.7 0 0 0-.82 0A2.7 2.7 0 0 1 4 12a2 2 0 0 1-2-2V7"/></g></svg>
<div class="t" style="left:446.40px;top:777.25px;font-size:28.7px;line-height:37px;color:#111827;font-weight:400;letter-spacing:0.267px;font-style:normal;-webkit-text-stroke:0.35px #111827;">Vendors</div>
<svg style="position:absolute;left:396px;top:848px;" width="32" height="32" viewBox="0 0 24 24"><g fill="none" stroke="#111827" stroke-width="2" stroke-linecap="round" stroke-linejoin="round"><path d="m3 11 18-5v12L3 14v-3z"/><path d="M11.6 16.8a3 3 0 1 1-5.8-1.6"/></g></svg>
<div class="t" style="left:444.00px;top:845.25px;font-size:28.7px;line-height:37px;color:#111827;font-weight:400;letter-spacing:0.315px;font-style:normal;-webkit-text-stroke:0.35px #111827;">Sponsors</div>
<svg style="position:absolute;left:396px;top:916px;" width="32" height="32" viewBox="0 0 24 24"><g fill="none" stroke="#111827" stroke-width="2" stroke-linecap="round" stroke-linejoin="round"><rect width="18" height="18" x="3" y="3" rx="2" ry="2"/><circle cx="9" cy="9" r="2"/><path d="m21 15-3.086-3.086a2 2 0 0 0-2.828 0L6 21"/></g></svg>
<div class="t" style="left:444.00px;top:913.25px;font-size:28.7px;line-height:37px;color:#111827;font-weight:400;letter-spacing:0.32px;font-style:normal;-webkit-text-stroke:0.35px #111827;">Flyers</div>
<svg style="position:absolute;left:396px;top:984px;" width="32" height="32" viewBox="0 0 24 24"><g fill="none" stroke="#111827" stroke-width="2" stroke-linecap="round" stroke-linejoin="round"><path d="M2 9a3 3 0 0 1 0 6v2a2 2 0 0 0 2 2h16a2 2 0 0 0 2-2v-2a3 3 0 0 1 0-6V7a2 2 0 0 0-2-2H4a2 2 0 0 0-2 2Z"/><path d="M13 5v2"/><path d="M13 17v2"/><path d="M13 11v2"/></g></svg>
<div class="t" style="left:446.40px;top:981.25px;font-size:28.7px;line-height:37px;color:#111827;font-weight:400;letter-spacing:0.602px;font-style:normal;-webkit-text-stroke:0.35px #111827;">Attendees</div>
<svg style="position:absolute;left:396px;top:1052px;" width="32" height="32" viewBox="0 0 24 24"><g fill="none" stroke="#111827" stroke-width="2" stroke-linecap="round" stroke-linejoin="round"><path d="M21 15a2 2 0 0 1-2 2H7l-4 4V5a2 2 0 0 1 2-2h14a2 2 0 0 1 2 2z"/></g></svg>
<div class="t" style="left:444.00px;top:1049.25px;font-size:28.7px;line-height:37px;color:#111827;font-weight:400;letter-spacing:0.314px;font-style:normal;-webkit-text-stroke:0.35px #111827;">Messages</div>
<svg style="position:absolute;left:396px;top:1120px;" width="32" height="32" viewBox="0 0 24 24"><g fill="none" stroke="#111827" stroke-width="2" stroke-linecap="round" stroke-linejoin="round"><path d="M3 3v16a2 2 0 0 0 2 2h16"/><path d="M18 17V9"/><path d="M13 17V5"/><path d="M8 17v-3"/></g></svg>
<div class="t" style="left:446.40px;top:1117.25px;font-size:28.7px;line-height:37px;color:#111827;font-weight:400;letter-spacing:0.627px;font-style:normal;-webkit-text-stroke:0.35px #111827;">Analytics</div>
<svg style="position:absolute;left:396px;top:1188px;" width="32" height="32" viewBox="0 0 24 24"><g fill="none" stroke="#111827" stroke-width="2" stroke-linecap="round" stroke-linejoin="round"><path d="M15 2H6a2 2 0 0 0-2 2v16a2 2 0 0 0 2 2h12a2 2 0 0 0 2-2V7Z"/><path d="M14 2v4a2 2 0 0 0 2 2h4"/><path d="M10 9H8"/><path d="M16 13H8"/><path d="M16 17H8"/></g></svg>
<div class="t" style="left:444.00px;top:1185.25px;font-size:28.7px;line-height:37px;color:#111827;font-weight:400;letter-spacing:0.6px;font-style:normal;-webkit-text-stroke:0.35px #111827;">Reports</div>
<svg style="position:absolute;left:396px;top:1256px;" width="32" height="32" viewBox="0 0 24 24"><g fill="none" stroke="#111827" stroke-width="2" stroke-linecap="round" stroke-linejoin="round"><path d="M12.22 2h-.44a2 2 0 0 0-2 2v.18a2 2 0 0 1-1 1.73l-.43.25a2 2 0 0 1-2 0l-.15-.08a2 2 0 0 0-2.73.73l-.22.38a2 2 0 0 0 .73 2.73l.15.1a2 2 0 0 1 1 1.72v.51a2 2 0 0 1-1 1.74l-.15.09a2 2 0 0 0-.73 2.73l.22.38a2 2 0 0 0 2.73.73l.15-.08a2 2 0 0 1 2 0l.43.25a2 2 0 0 1 1 1.73V20a2 2 0 0 0 2 2h.44a2 2 0 0 0 2-2v-.18a2 2 0 0 1 1-1.73l.43-.25a2 2 0 0 1 2 0l.15.08a2 2 0 0 0 2.73-.73l.22-.39a2 2 0 0 0-.73-2.73l-.15-.08a2 2 0 0 1-1-1.74v-.5a2 2 0 0 1 1-1.74l.15-.09a2 2 0 0 0 .73-2.73l-.22-.38a2 2 0 0 0-2.73-.73l-.15.08a2 2 0 0 1-2 0l-.43-.25a2 2 0 0 1-1-1.73V4a2 2 0 0 0-2-2z"/><circle cx="12" cy="12" r="3"/></g></svg>
<div class="t" style="left:444.00px;top:1253.25px;font-size:28.7px;line-height:37px;color:#111827;font-weight:400;letter-spacing:0.744px;font-style:normal;-webkit-text-stroke:0.35px #111827;">Settings</div>
<div class="t" style="left:843.90px;top:132.95px;font-size:47.15px;line-height:61px;color:#111827;font-weight:400;letter-spacing:-1.623px;font-style:normal;-webkit-text-stroke:0.25px #111827;">Dashboard</div>
<div style="position:absolute;left:0;top:0;width:2360px;height:700px;overflow:hidden;">
<div style="position:absolute;left:845px;top:290px;width:500px;height:235px;background:#fff;border:2px solid #e5e7eb;border-radius:24px;box-sizing:border-box;box-shadow:0 2px 3px rgba(0,0,0,0.06);"></div>
<div style="position:absolute;left:894px;top:360px;width:96px;height:96px;background:#3b82f6;border-radius:16px;"></div>
<svg style="position:absolute;left:918px;top:384px;" width="48" height="48" viewBox="0 0 24 24"><g fill="none" stroke="#fff" stroke-width="2" stroke-linecap="round" stroke-linejoin="round"><path d="M2 10s3-3 3-8"/><path d="M22 10s-3-3-3-8"/><path d="M10 2c0 4.4-3.6 8-8 8"/><path d="M14 2c0 4.4 3.6 8 8 8"/><path d="M2 10s2 2 2 5"/><path d="M22 10s-2 2-2 5"/><path d="M8 15h8"/><path d="M2 22v-1a2 2 0 0 1 2-2h4a2 2 0 0 1 2 2v1"/><path d="M14 22v-1a2 2 0 0 1 2-2h4a2 2 0 0 1 2 2v1"/></g></svg>
<div class="t" style="left:1023.20px;top:342.05px;font-size:28.7px;line-height:37px;color:#6b7280;font-weight:400;letter-spacing:-0.16px;font-style:normal;-webkit-text-stroke:0.25px #6b7280;">Total Shows</div>
<div class="t" style="left:1021.00px;top:381.44px;font-size:49.2px;line-height:64px;color:#111827;font-weight:700;letter-spacing:0px;font-style:normal;transform:scaleX(1.2);transform-origin:0 0;">0</div>
<div class="t" style="left:1022.00px;top:444.47px;font-size:24.6px;line-height:32px;color:#9ca3af;font-weight:400;letter-spacing:0.48px;font-style:normal;-webkit-text-stroke:0.25px #9ca3af;">0 scheduled</div>
<div style="position:absolute;left:1227px;top:290px;width:500px;height:235px;background:#fff;border:2px solid #e5e7eb;border-radius:24px;box-sizing:border-box;box-shadow:0 2px 3px rgba(0,0,0,0.06);"></div>
<div style="position:absolute;left:1276px;top:360px;width:96px;height:96px;background:#a855f7;border-radius:16px;"></div>
<svg style="position:absolute;left:1300px;top:384px;" width="48" height="48" viewBox="0 0 24 24"><g fill="none" stroke="#fff" stroke-width="2" stroke-linecap="round" stroke-linejoin="round"><path d="M16 21v-2a4 4 0 0 0-4-4H6a4 4 0 0 0-4 4v2"/><circle cx="9" cy="7" r="4"/><path d="M22 21v-2a4 4 0 0 0-3-3.87"/><path d="M16 3.13a4 4 0 0 1 0 7.75"/></g></svg>
<div class="t" style="left:1405.10px;top:342.05px;font-size:28.7px;line-height:37px;color:#6b7280;font-weight:400;letter-spacing:0.156px;font-style:normal;-webkit-text-stroke:0.25px #6b7280;">Performers</div>
<div class="t" style="left:1405.00px;top:381.44px;font-size:49.2px;line-height:64px;color:#111827;font-weight:700;letter-spacing:0px;font-style:normal;transform:scaleX(1.2);transform-origin:0 0;">0</div>
<div class="t" style="left:1405.25px;top:444.47px;font-size:24.6px;line-height:32px;color:#9ca3af;font-weight:400;letter-spacing:0.672px;font-style:normal;-webkit-text-stroke:0.25px #9ca3af;">0 accepted</div>
<div style="position:absolute;left:1610px;top:290px;width:500px;height:235px;background:#fff;border:2px solid #e5e7eb;border-radius:24px;box-sizing:border-box;box-shadow:0 2px 3px rgba(0,0,0,0.06);"></div>
<div style="position:absolute;left:1659px;top:360px;width:96px;height:96px;background:#ec4899;border-radius:16px;"></div>
<svg style="position:absolute;left:1683px;top:384px;" width="48" height="48" viewBox="0 0 24 24"><g fill="none" stroke="#fff" stroke-width="2" stroke-linecap="round" stroke-linejoin="round"><path d="M19 14c1.49-1.46 3-3.21 3-5.5A5.5 5.5 0 0 0 16.5 3c-1.76 0-3 .5-4.5 2-1.5-1.5-2.74-2-4.5-2A5.5 5.5 0 0 0 2 8.5c0 2.3 1.5 4.05 3 5.5l7 7Z"/></g></svg>
<div class="t" style="left:1789.00px;top:342.05px;font-size:28.7px;line-height:37px;color:#6b7280;font-weight:400;letter-spacing:0.089px;font-style:normal;-webkit-text-stroke:0.25px #6b7280;">Volunteers</div>
<div class="t" style="left:1788.00px;top:381.44px;font-size:49.2px;line-height:64px;color:#111827;font-weight:700;letter-spacing:0px;font-style:normal;transform:scaleX(1.2);transform-origin:0 0;">0</div>
<div class="t" style="left:1788.30px;top:444.47px;font-size:24.6px;line-height:32px;color:#9ca3af;font-weight:400;letter-spacing:0.6px;font-style:normal;-webkit-text-stroke:0.25px #9ca3af;">0 hours logged</div>
<div style="position:absolute;left:1993px;top:290px;width:500px;height:235px;background:#fff;border:2px solid #e5e7eb;border-radius:24px;box-sizing:border-box;box-shadow:0 2px 3px rgba(0,0,0,0.06);"></div>
<div style="position:absolute;left:2042px;top:360px;width:96px;height:96px;background:#22c55e;border-radius:16px;"></div>
<svg style="position:absolute;left:2066px;top:384px;" width="48" height="48" viewBox="0 0 24 24"><g fill="none" stroke="#fff" stroke-width="2" stroke-linecap="round" stroke-linejoin="round"><line x1="12" x2="12" y1="2" y2="22"/><path d="M17 5H9.5a3.5 3.5 0 0 0 0 7h5a3.5 3.5 0 0 1 0 7H6"/></g></svg>
<div class="t" style="left:2170.90px;top:342.05px;font-size:28.7px;line-height:37px;color:#6b7280;font-weight:400;letter-spacing:-0.684px;font-style:normal;-webkit-text-stroke:0.25px #6b7280;">Revenue</div>
<div class="t" style="left:2172.30px;top:381.44px;font-size:49.2px;line-height:64px;color:#111827;font-weight:700;letter-spacing:-3.4px;font-style:normal;transform:scaleX(1.2);transform-origin:0 0;">$0</div>
<div class="t" style="left:2170.90px;top:444.47px;font-size:24.6px;line-height:32px;color:#9ca3af;font-weight:400;letter-spacing:0.717px;font-style:normal;-webkit-text-stroke:0.25px #9ca3af;">Net: $0</div>
</div>
<div style="position:absolute;left:845px;top:614px;width:717px;height:353px;background:#fff;border:2px solid #e5e7eb;border-radius:24px;box-sizing:border-box;box-shadow:0 2px 3px rgba(0,0,0,0.06);"></div>
<div style="position:absolute;left:1610px;top:614px;width:717px;height:353px;background:#fff;border:2px solid #e5e7eb;border-radius:24px;box-sizing:border-box;box-shadow:0 2px 3px rgba(0,0,0,0.06);"></div>
<div style="position:absolute;left:845px;top:1055px;width:717px;height:340px;background:#fff;border:2px solid #e5e7eb;border-radius:24px;box-sizing:border-box;box-shadow:0 2px 3px rgba(0,0,0,0.06);"></div>
<div style="position:absolute;left:1610px;top:1055px;width:717px;height:340px;background:#fff;border:2px solid #e5e7eb;border-radius:24px;box-sizing:border-box;box-shadow:0 2px 3px rgba(0,0,0,0.06);"></div>
<div class="t" style="left:893.80px;top:668.51px;font-size:36.9px;line-height:48px;color:#1d2327;font-weight:700;letter-spacing:-1.215px;font-style:normal;">Upcoming Shows</div>
<div class="t" style="left:895.00px;top:753.75px;font-size:28.7px;line-height:37px;color:#6b7280;font-weight:400;letter-spacing:0.142px;font-style:normal;-webkit-text-stroke:0.25px #6b7280;">shows scheduled</div>
<div class="t" style="left:1662.40px;top:668.21px;font-size:36.9px;line-height:48px;color:#1d2327;font-weight:700;letter-spacing:-0.945px;font-style:normal;">Ticket Sales</div>
<div class="t" style="left:1661.25px;top:754.56px;font-size:26.65px;line-height:35px;color:#6b7280;font-weight:400;letter-spacing:0.433px;font-style:normal;-webkit-text-stroke:0.25px #6b7280;">Total Tickets</div>
<div class="t" style="right:107.00px;top:754.56px;font-size:26.65px;line-height:35px;color:#111827;font-weight:700;letter-spacing:0px;font-style:normal;">0</div>
<div class="t" style="left:1660.00px;top:816.96px;font-size:26.65px;line-height:35px;color:#6b7280;font-weight:400;letter-spacing:0.016px;font-style:normal;-webkit-text-stroke:0.25px #6b7280;">Checked In</div>
<div class="t" style="right:107.00px;top:816.96px;font-size:26.65px;line-height:35px;color:#111827;font-weight:700;letter-spacing:0px;font-style:normal;">0</div>
<div class="t" style="left:1659.25px;top:879.96px;font-size:26.65px;line-height:35px;color:#6b7280;font-weight:400;letter-spacing:-0.482px;font-style:normal;-webkit-text-stroke:0.25px #6b7280;">Revenue</div>
<div class="t" style="right:107.00px;top:879.96px;font-size:26.65px;line-height:35px;color:#16a34a;font-weight:700;letter-spacing:0px;font-style:normal;">$0</div>
<div class="t" style="left:893.40px;top:1109.01px;font-size:36.9px;line-height:48px;color:#1d2327;font-weight:700;letter-spacing:-0.772px;font-style:normal;">Performer Applications</div>
<div class="t" style="left:893.40px;top:1195.76px;font-size:26.65px;line-height:35px;color:#6b7280;font-weight:400;letter-spacing:0.183px;font-style:normal;-webkit-text-stroke:0.25px #6b7280;">Pending</div>
<div style="position:absolute;left:1456px;top:1193px;width:56px;height:40px;background:#fef9c3;border-radius:20px;"></div>
<div class="t" style="left:1484.00px;top:1197.97px;font-size:24.6px;line-height:32px;color:#854d0e;font-weight:400;letter-spacing:0px;font-style:normal;transform:translateX(-50%);-webkit-text-stroke:0.25px #854d0e;">0</div>
<div class="t" style="left:893.80px;top:1251.26px;font-size:26.65px;line-height:35px;color:#6b7280;font-weight:400;letter-spacing:-0.104px;font-style:normal;-webkit-text-stroke:0.25px #6b7280;">Under Review</div>
<div style="position:absolute;left:1456px;top:1249px;width:56px;height:40px;background:#dbeafe;border-radius:20px;"></div>
<div class="t" style="left:1484.00px;top:1253.47px;font-size:24.6px;line-height:32px;color:#1e40af;font-weight:400;letter-spacing:0px;font-style:normal;transform:translateX(-50%);-webkit-text-stroke:0.25px #1e40af;">0</div>
<div class="t" style="left:895.40px;top:1307.46px;font-size:26.65px;line-height:35px;color:#6b7280;font-weight:400;letter-spacing:0.35px;font-style:normal;-webkit-text-stroke:0.25px #6b7280;">Accepted</div>
<div style="position:absolute;left:1456px;top:1305px;width:56px;height:40px;background:#dcfce7;border-radius:20px;"></div>
<div class="t" style="left:1484.00px;top:1309.67px;font-size:24.6px;line-height:32px;color:#166534;font-weight:400;letter-spacing:0px;font-style:normal;transform:translateX(-50%);-webkit-text-stroke:0.25px #166534;">0</div>
<div class="t" style="left:1661.30px;top:1109.01px;font-size:36.9px;line-height:48px;color:#1d2327;font-weight:700;letter-spacing:-0.76px;font-style:normal;">Volunteer Shifts</div>
<div class="t" style="left:1661.30px;top:1195.46px;font-size:26.65px;line-height:35px;color:#6b7280;font-weight:400;letter-spacing:0.332px;font-style:normal;-webkit-text-stroke:0.25px #6b7280;">Total Shifts</div>
<div class="t" style="right:107.00px;top:1195.46px;font-size:26.65px;line-height:35px;color:#111827;font-weight:700;letter-spacing:0px;font-style:normal;">0</div>
<div class="t" style="left:1660.00px;top:1249.96px;font-size:26.65px;line-height:35px;color:#6b7280;font-weight:400;letter-spacing:0.107px;font-style:normal;-webkit-text-stroke:0.25px #6b7280;">Slots Available</div>
<div class="t" style="right:107.00px;top:1249.96px;font-size:26.65px;line-height:35px;color:#111827;font-weight:700;letter-spacing:0px;font-style:normal;">0</div>
<div class="t" style="left:1659.30px;top:1304.96px;font-size:26.65px;line-height:35px;color:#6b7280;font-weight:400;letter-spacing:-0.15px;font-style:normal;-webkit-text-stroke:0.25px #6b7280;">Fill Rate</div>
<div class="t" style="right:107.00px;top:1304.96px;font-size:26.65px;line-height:35px;color:#111827;font-weight:700;letter-spacing:0px;font-style:normal;">0%</div>
<div class="t" style="left:361.00px;top:1957.76px;font-size:26.65px;line-height:35px;color:#50575e;font-weight:400;letter-spacing:0.288px;font-style:italic;-webkit-text-stroke:0.25px #50575e;">Thank you for creating with WordPress.</div>
<div class="t" style="right:25.00px;top:1956.86px;font-size:26.65px;line-height:35px;color:#50575e;font-weight:400;letter-spacing:0.06px;font-style:normal;-webkit-text-stroke:0.25px #50575e;">Version 6.9</div>
</body></html>
